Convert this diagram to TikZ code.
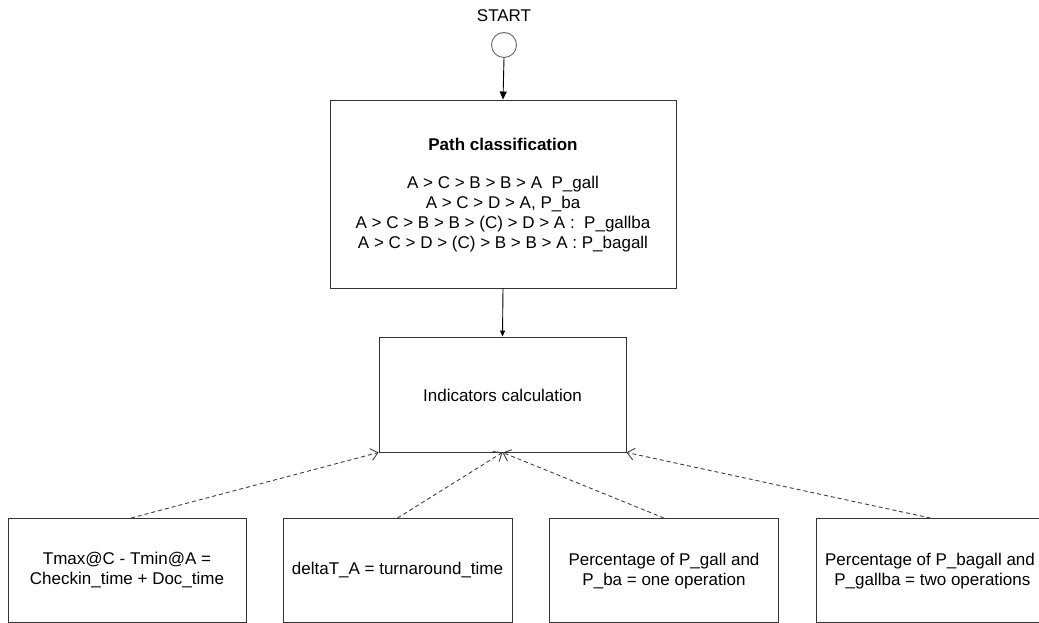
\documentclass[tikz,border=0pt]{standalone}
\usepackage{fontspec}
\setmainfont{Liberation Sans}
\usetikzlibrary{arrows.meta}
\begin{document}
\begin{tikzpicture}[x=1pt,y=1pt,
  every node/.style={font=\fontsize{17}{20}\selectfont},
  box/.style={draw=black!80, line width=0.9pt, rectangle, inner sep=0pt},
  txt/.style={align=center, inner sep=0pt},
  flow/.style={draw=black, line width=0.9pt, -{Triangle[width=7pt,length=8pt]}},
  dep/.style={draw=black!75, line width=0.9pt, dashed, dash pattern=on 4pt off 3pt, -{Straight Barb[width=12pt,length=7pt,line width=0.9pt]}}
]
\useasboundingbox (0,0) rectangle (1039,-623);
\fill[white] (0,0) rectangle (1039,-623);

\node[txt] (startlbl) at (504,-16) {START};
\node[circle, draw=black!60, line width=0.9pt, minimum size=25pt, inner sep=0pt] (start) at (504,-45) {};

\node[box, minimum width=346pt, minimum height=188pt] (path) at (503,-194) {};
\node[txt, font=\fontsize{17}{20}\selectfont\bfseries] (ptitle) at (503,-144) {Path classification};
\node[txt] (plines) at (503,-214) {A > C > B > B > A\ \ P\_gall\\A > C > D > A, P\_ba\\A > C > B > B > (C) > D > A :\ \ P\_gallba\\A > C > D > (C) > B > B > A : P\_bagall};

\node[box, minimum width=247pt, minimum height=115pt] (ind) at (502.5,-394.5) {};
\node[txt] (indt) at (502.5,-395) {Indicators calculation};

\node[box, minimum width=238pt, minimum height=104pt] (b1) at (127,-570.5) {};
\node[txt] (b1t) at (127,-570) {Tmax@C - Tmin@A =\\Checkin\_time + Doc\_time};
\node[box, minimum width=229pt, minimum height=104pt] (b2) at (397.5,-570.5) {};
\node[txt] (b2t) at (397.5,-570) {deltaT\_A = turnaround\_time};
\node[box, minimum width=229pt, minimum height=104pt] (b3) at (664,-570.5) {};
\node[txt] (b3t) at (664,-571) {Percentage of P\_gall and\\P\_ba = one operation};
\node[box, minimum width=229pt, minimum height=104pt] (b4) at (930.5,-570.5) {};
\node[txt] (b4t) at (930,-571) {Percentage of P\_bagall and\\\ P\_gallba = two operations};

\draw[flow] (start.south) -- (path.north);
\draw[flow, -{Triangle[width=5pt,length=6pt]}] (path.south) -- (ind.north);

\draw[dep] (b1.north) ++(4,0) coordinate (b1s) -- (ind.south west);
\draw[dep] (b2.north) -- (ind.south);
\draw[dep] (b3.north) -- (ind.south);
\draw[dep] (b4.north) -- (ind.south east);
\end{tikzpicture}
\end{document}
